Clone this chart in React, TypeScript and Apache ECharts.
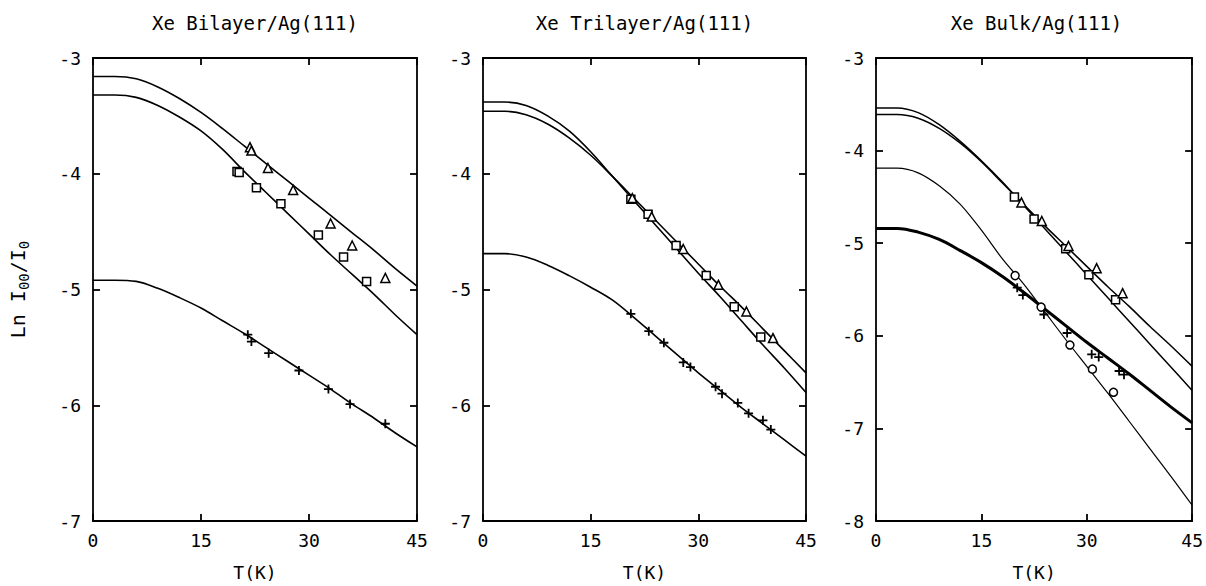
import React, { useEffect, useRef } from "react";
import * as echarts from "echarts";

// Temperature grid (K) on which the fitted curves are read
const T_GRID = [0, 3, 6, 9, 12, 15, 18, 21, 24, 27, 30, 33, 36, 39, 42, 45];

// ---- Xe Bilayer/Ag(111) ----
const biTriFit = [-3.16, -3.16, -3.18, -3.25, -3.35, -3.47, -3.61, -3.76, -3.91, -4.06, -4.21, -4.36, -4.51, -4.66, -4.82, -4.97];
const biSqFit = [-3.32, -3.32, -3.34, -3.41, -3.51, -3.63, -3.79, -3.98, -4.16, -4.34, -4.52, -4.7, -4.87, -5.04, -5.22, -5.39];
const biPlusFit = [-4.92, -4.92, -4.93, -4.99, -5.07, -5.16, -5.27, -5.38, -5.5, -5.62, -5.74, -5.86, -5.99, -6.11, -6.24, -6.36];
const biTri = [[21.8, -3.77], [22.0, -3.8], [24.3, -3.95], [27.8, -4.14], [33.0, -4.43], [36.0, -4.62], [40.6, -4.9]];
const biSq = [[20.0, -3.98], [20.3, -3.99], [22.7, -4.12], [26.1, -4.26], [31.3, -4.53], [34.8, -4.72], [38.0, -4.93]];
const biPlus = [[21.5, -5.39], [22.0, -5.45], [24.4, -5.55], [28.6, -5.7], [32.7, -5.86], [35.7, -5.99], [40.6, -6.16]];

// ---- Xe Trilayer/Ag(111) ----
const triSqFit = [-3.38, -3.38, -3.41, -3.5, -3.63, -3.81, -4.02, -4.23, -4.44, -4.65, -4.86, -5.06, -5.27, -5.48, -5.68, -5.89];
const triTriFit = [-3.46, -3.46, -3.49, -3.57, -3.69, -3.84, -4.02, -4.21, -4.4, -4.59, -4.78, -4.97, -5.15, -5.34, -5.53, -5.72];
const triPlusFit = [-4.69, -4.69, -4.72, -4.79, -4.88, -4.98, -5.09, -5.24, -5.4, -5.56, -5.72, -5.87, -6.02, -6.16, -6.3, -6.44];
const triSq = [[20.6, -4.22], [23.0, -4.35], [26.9, -4.62], [31.1, -4.88], [35.0, -5.15], [38.7, -5.41]];
const triTri = [[20.8, -4.21], [23.5, -4.37], [27.9, -4.65], [32.8, -4.96], [36.7, -5.19], [40.4, -5.42]];
const triPlus = [[20.6, -5.21], [23.1, -5.36], [25.2, -5.46], [27.9, -5.63], [28.9, -5.67], [32.4, -5.84], [33.3, -5.9], [35.5, -5.98], [37.0, -6.07], [39.0, -6.13], [40.1, -6.21]];

// ---- Xe Bulk/Ag(111) ----
const bulkSqFit = [-3.54, -3.54, -3.59, -3.72, -3.9, -4.11, -4.34, -4.59, -4.84, -5.09, -5.34, -5.59, -5.84, -6.09, -6.34, -6.59];
const bulkTriFit = [-3.61, -3.61, -3.65, -3.76, -3.92, -4.12, -4.35, -4.58, -4.81, -5.03, -5.25, -5.47, -5.68, -5.9, -6.11, -6.33];
const bulkCircFit = [-4.19, -4.19, -4.24, -4.38, -4.58, -4.86, -5.17, -5.44, -5.74, -6.04, -6.33, -6.62, -6.92, -7.22, -7.52, -7.83];
const bulkPlusFit = [-4.84, -4.84, -4.88, -4.96, -5.08, -5.21, -5.36, -5.53, -5.71, -5.89, -6.07, -6.24, -6.41, -6.59, -6.77, -6.94];
const bulkSq = [[19.7, -4.5], [22.5, -4.74], [27.0, -5.06], [30.3, -5.34], [34.1, -5.61]];
const bulkTri = [[20.7, -4.56], [23.6, -4.76], [27.4, -5.03], [31.4, -5.27], [35.1, -5.54]];
const bulkCirc = [[19.8, -5.35], [23.5, -5.69], [27.6, -6.1], [30.8, -6.36], [33.8, -6.61]];
const bulkPlus = [[20.1, -5.48], [20.9, -5.56], [23.9, -5.77], [27.2, -5.97], [30.7, -6.2], [31.7, -6.23], [34.6, -6.38], [35.3, -6.42]];

const X_TICKS = ["0", "15", "30", "45"];
const TITLES = ["Xe Bilayer/Ag(111)", "Xe Trilayer/Ag(111)", "Xe Bulk/Ag(111)"];
const Y_MINS = [-7, -7, -8];
const Y_MAX = -3;

const FONT = "DejaVu Sans Mono";
const PLUS = "path://M5,0L5,10M0,5L10,5";

const PANELS = [
  {
    left: 93, width: 324,
    fits: [{ v: biTriFit, w: 1.6 }, { v: biSqFit, w: 1.6 }, { v: biPlusFit, w: 1.6 }],
    pts: [{ d: biTri, s: "triangle" }, { d: biSq, s: "rect" }, { d: biPlus, s: PLUS }],
  },
  {
    left: 483, width: 323,
    fits: [{ v: triSqFit, w: 1.6 }, { v: triTriFit, w: 1.6 }, { v: triPlusFit, w: 1.6 }],
    pts: [{ d: triSq, s: "rect" }, { d: triTri, s: "triangle" }, { d: triPlus, s: PLUS }],
  },
  {
    left: 876, width: 321,
    fits: [{ v: bulkSqFit, w: 1.5 }, { v: bulkTriFit, w: 1.5 }, { v: bulkCircFit, w: 1.2 }, { v: bulkPlusFit, w: 3 }],
    pts: [{ d: bulkSq, s: "rect" }, { d: bulkTri, s: "triangle" }, { d: bulkCirc, s: "circle" }, { d: bulkPlus, s: PLUS }],
  },
];

const TOP = 58;
const HEIGHT = 469;

export default function App() {
  const ref = useRef<HTMLDivElement>(null);
  useEffect(() => {
    if (!ref.current) return;
    const chart = echarts.init(ref.current, null, { renderer: "svg" });
    const lineStyle = { color: "#000", width: 1.8 };
    const grid: any[] = [];
    const xAxis: any[] = [];
    const yAxis: any[] = [];
    const series: any[] = [];
    const graphic: any[] = [];
    PANELS.forEach((p, i) => {
      grid.push({ left: p.left, top: TOP, width: p.width, height: HEIGHT });
      const xBase = {
        type: "value", gridIndex: i, min: 0, max: 45, interval: 15,
        splitLine: { show: false },
        axisLine: { show: true, onZero: false, lineStyle },
        axisTick: { show: true, inside: true, length: 7, lineStyle },
      };
      xAxis.push({
        ...xBase, position: "bottom",
        axisLabel: {
          show: true, margin: 10, color: "#000", fontFamily: FONT, fontSize: 18,
          formatter: (v: number) => X_TICKS[Math.round(v / 15)] ?? String(v),
        },
        name: "T(K)", nameLocation: "middle", nameGap: 42,
        nameTextStyle: { color: "#000", fontFamily: FONT, fontSize: 18 },
      });
      xAxis.push({ ...xBase, position: "top", axisLabel: { show: false } });
      const yBase = {
        type: "value", gridIndex: i, min: Y_MINS[i], max: Y_MAX, interval: 1,
        splitLine: { show: false },
        axisLine: { show: true, onZero: false, lineStyle },
        axisTick: { show: true, inside: true, length: 7, lineStyle },
      };
      const yLeft: any = {
        ...yBase, position: "left",
        axisLabel: { show: true, margin: 12, color: "#000", fontFamily: FONT, fontSize: 18 },
      };
      if (i === 0) {
        yLeft.name = "{a|Ln I}{s|00}{a|/I}{s|0}";
        yLeft.nameLocation = "middle";
        yLeft.nameRotate = 90;
        yLeft.nameGap = 62;
        yLeft.nameTextStyle = {
          color: "#000", fontFamily: FONT, fontSize: 20,
          rich: {
            a: { color: "#000", fontFamily: FONT, fontSize: 20, lineHeight: 26 },
            s: { color: "#000", fontFamily: FONT, fontSize: 14, lineHeight: 15, verticalAlign: "bottom" },
          },
        };
      }
      yAxis.push(yLeft);
      yAxis.push({ ...yBase, position: "right", axisLabel: { show: false } });

      p.fits.forEach((f) => {
        series.push({
          type: "line", xAxisIndex: 2 * i, yAxisIndex: 2 * i,
          data: T_GRID.map((t, k) => [t, f.v[k]]),
          showSymbol: false, symbol: "none", smooth: 0.35,
          lineStyle: { color: "#000", width: f.w },
          z: 2,
        });
      });
      p.pts.forEach((pt) => {
        const isPlus = pt.s === PLUS;
        series.push({
          type: "scatter", xAxisIndex: 2 * i, yAxisIndex: 2 * i,
          data: pt.d, symbol: pt.s,
          symbolSize: isPlus ? 9 : pt.s === "triangle" ? 9 : 8,
          itemStyle: {
            color: isPlus ? "rgba(0,0,0,0)" : "#fff",
            borderColor: "#000", borderWidth: isPlus ? 1.8 : 1.5, opacity: 1,
          },
          z: 3,
        });
      });
      graphic.push({
        type: "text",
        x: p.left + p.width / 2,
        y: 23,
        style: {
          text: TITLES[i], fill: "#000", fontFamily: FONT, fontSize: 19,
          align: "center", verticalAlign: "middle",
          textAlign: "center", textVerticalAlign: "middle",
        },
      });
    });

    chart.setOption({
      animation: false,
      backgroundColor: "#fff",
      grid, xAxis, yAxis, series, graphic,
    });
    return () => chart.dispose();
  }, []);
  return (
    <div
      ref={ref}
      style={{ position: "fixed", left: 0, top: 0, width: 1206, height: 586, background: "#fff" }}
    />
  );
}
